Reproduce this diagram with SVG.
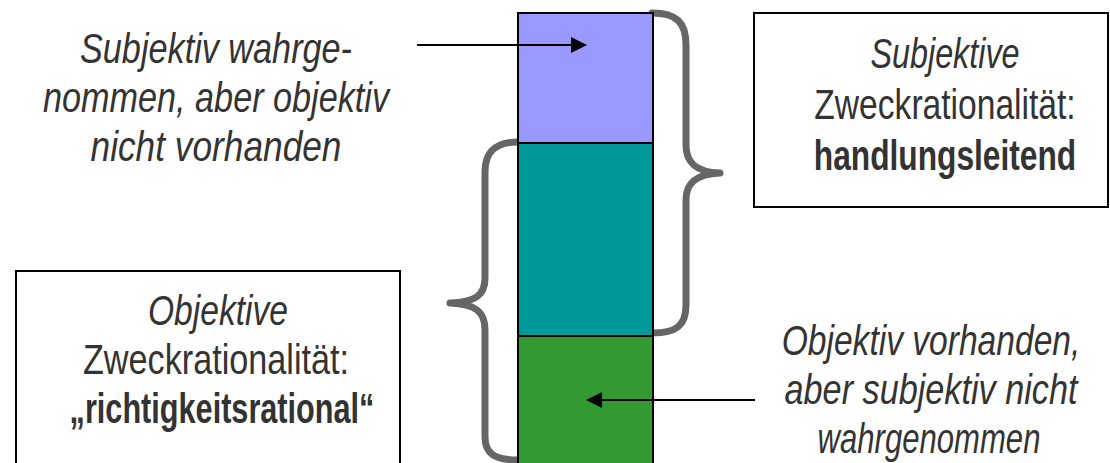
<svg xmlns="http://www.w3.org/2000/svg" width="1110" height="463" viewBox="0 0 1110 463">
  <defs>
    <style>
      .txt { font-family: "Liberation Sans", Arial, sans-serif; font-size: 42px; fill: #333333; text-anchor: middle; }
      .it { font-style: italic; }
      .bd { font-weight: bold; }
      .box { fill: #ffffff; stroke: #000000; stroke-width: 2; }
      .seg { stroke: #000000; stroke-width: 2; }
      .brace { fill: none; stroke: #666666; stroke-width: 7; stroke-linecap: round; stroke-linejoin: round; }
      .arrow { stroke: #000000; stroke-width: 2; fill: none; }
    </style>
    <marker id="head" viewBox="0 0 16 16" refX="15" refY="8" markerWidth="16" markerHeight="16" markerUnits="userSpaceOnUse" orient="auto">
      <path d="M0,0 L16,8 L0,16 Z" fill="#000000"/>
    </marker>
  </defs>
  <rect width="1110" height="463" fill="#ffffff"/>

  <!-- braces grouping the bar segments -->
  <g id="braces">
    <path class="brace" d="M652,13 C676,13 686,22 686,45 L686,145 C686,162 695,172 720,173 C695,174 686,184 686,200 L686,305 C686,326 676,333 652,333"/>
    <path class="brace" d="M518,142 C495,142 485,152 485,172 L485,278 C485,295 476,302 450,303 C476,304 485,312 485,330 L485,437 C485,454 495,460 518,460"/>
  </g>

  <!-- stacked bar -->
  <g id="bar">
    <rect id="seg-subjective" class="seg" x="518" y="13" width="135" height="130" fill="#9999ff"/>
    <rect id="seg-overlap" class="seg" x="518" y="143" width="135" height="193" fill="#009999"/>
    <rect id="seg-objective" class="seg" x="518" y="336" width="135" height="140" fill="#339933"/>
  </g>

  <!-- pointer arrows -->
  <g id="connectors">
    <line class="arrow" x1="417" y1="45" x2="586" y2="45" marker-end="url(#head)"/>
    <line class="arrow" x1="755" y1="400" x2="587" y2="400" marker-end="url(#head)"/>
  </g>

  <!-- condensed lettering: each line is squeezed horizontally about its centre -->
  <g id="label-top-left">
    <text class="txt it" transform="translate(216,63) scale(0.815,1)">Subjektiv wahrge-</text>
    <text class="txt it" transform="translate(216,112) scale(0.815,1)">nommen, aber objektiv</text>
    <text class="txt it" transform="translate(216,161) scale(0.84,1)">nicht vorhanden</text>
  </g>

  <g id="box-subjective">
    <rect class="box" x="754" y="13" width="354" height="194"/>
    <text class="txt it" transform="translate(945,68) scale(0.77,1)">Subjektive</text>
    <text class="txt" transform="translate(945,119) scale(0.8,1)">Zweckrationalität:</text>
    <text class="txt bd" transform="translate(945,170) scale(0.755,1)">handlungsleitend</text>
  </g>

  <g id="box-objective">
    <rect class="box" x="16" y="271" width="384" height="210"/>
    <text class="txt it" transform="translate(218,325) scale(0.8,1)">Objektive</text>
    <text class="txt" transform="translate(216,374) scale(0.815,1)">Zweckrationalität:</text>
    <text class="txt bd" transform="translate(222,423) scale(0.73,1)">„richtigkeitsrational“</text>
  </g>

  <g id="label-bottom-right">
    <text class="txt it" transform="translate(931,355) scale(0.8,1)">Objektiv vorhanden,</text>
    <text class="txt it" transform="translate(931,404) scale(0.815,1)">aber subjektiv nicht</text>
    <text class="txt it" transform="translate(929,453) scale(0.74,1)">wahrgenommen</text>
  </g>
</svg>
